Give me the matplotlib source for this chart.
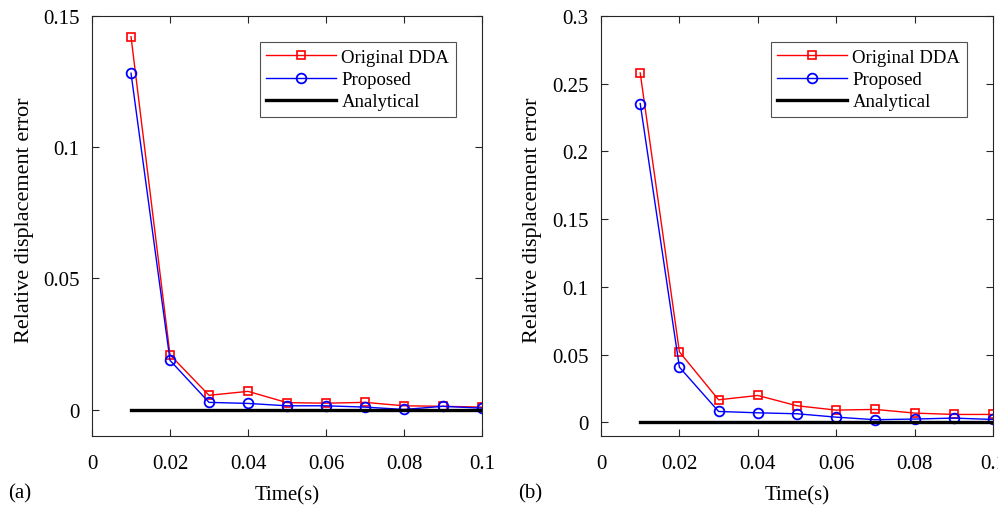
import matplotlib
matplotlib.use('Agg')
import matplotlib.pyplot as plt

plt.rcParams['font.family'] = ['Liberation Serif', 'DejaVu Serif']

time = [0.01, 0.02, 0.03, 0.04, 0.05, 0.06, 0.07, 0.08, 0.09, 0.10]

# panel (a)
dda_a = [0.1421, 0.0209, 0.0055, 0.0070, 0.0027, 0.0025, 0.0028, 0.0015, 0.0013, 0.0010]
prop_a = [0.1282, 0.0188, 0.0028, 0.0024, 0.0015, 0.0015, 0.0010, 0.0001, 0.0013, 0.0006]
# panel (b)
dda_b = [0.2580, 0.0521, 0.0167, 0.0199, 0.0123, 0.0091, 0.0096, 0.0069, 0.0059, 0.0059]
prop_b = [0.2354, 0.0408, 0.0081, 0.0071, 0.0064, 0.0039, 0.0020, 0.0025, 0.0032, 0.0022]
analytical = [0.0] * len(time)

xticks = [0, 0.02, 0.04, 0.06, 0.08, 0.1]
xticklabels = ['0', '0.02', '0.04', '0.06', '0.08', '0.1']
yticks_a = [0, 0.05, 0.1, 0.15]
yticklabels_a = ['0', '0.05', '0.1', '0.15']
yticks_b = [0, 0.05, 0.1, 0.15, 0.2, 0.25, 0.3]
yticklabels_b = ['0', '0.05', '0.1', '0.15', '0.2', '0.25', '0.3']

fig = plt.figure(figsize=(9.98, 5.06), dpi=100)
ax_a = fig.add_axes([0.0922, 0.1364, 0.3908, 0.830])
ax_b = fig.add_axes([0.6022, 0.1364, 0.3928, 0.830])

edge = '#262626'

def draw(ax, dda, prop, yticks, yticklabels, ylim):
    ax.plot(time, dda, color='red', lw=1.0, marker='s', ms=5.5, mfc='none',
            mec='red', mew=1.2, label='Original DDA')
    ax.plot(time, prop, color='blue', lw=1.0, marker='o', ms=7, mfc='none',
            mec='blue', mew=1.3, label='Proposed')
    ax.plot(time, analytical, color='black', lw=2.4, label='Analytical')
    ax.set_xlim(0, 0.1)
    ax.set_ylim(*ylim)
    ax.set_xticks(xticks)
    ax.set_xticklabels(xticklabels)
    ax.set_yticks(yticks)
    ax.set_yticklabels(yticklabels)
    ax.tick_params(direction='in', top=True, right=True, length=5,
                   width=0.8, color=edge, labelsize=15)
    ax.tick_params(axis='x', pad=13)
    ax.tick_params(axis='y', pad=9)
    for s in ax.spines.values():
        s.set_color(edge)
        s.set_linewidth(0.8)
    ax.set_xlabel('Time(s)', fontsize=15, labelpad=9)
    ax.set_ylabel('Relative displacement error', fontsize=16)
    ax.yaxis.set_label_coords(-0.15, 0.517)
    leg = ax.legend(loc='upper right', fontsize=13.5, frameon=True, fancybox=False,
                    borderaxespad=1.4, handlelength=3.7, handletextpad=0.3,
                    borderpad=0.35, labelspacing=0.27)
    leg.get_frame().set_edgecolor(edge)
    leg.get_frame().set_linewidth(0.8)

draw(ax_a, dda_a, prop_a, yticks_a, yticklabels_a, (-0.01, 0.15))
draw(ax_b, dda_b, prop_b, yticks_b, yticklabels_b, (-0.01, 0.3))

fig.text(0.008, 0.015, '(a)', fontsize=15)
fig.text(0.519, 0.015, '(b)', fontsize=15)

plt.savefig('out.png', dpi=100)
plt.close()
